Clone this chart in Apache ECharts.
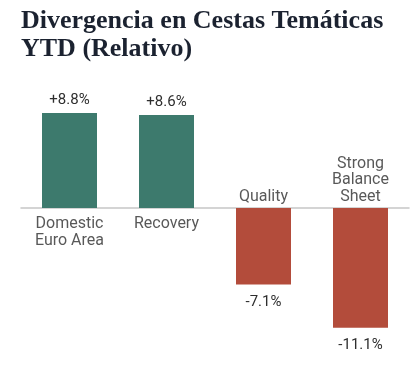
<!DOCTYPE html>
<html>
<head>
<meta charset="utf-8">
<script src="https://cdn.jsdelivr.net/npm/echarts@6/dist/echarts.min.js"></script>
<style>html,body{margin:0;padding:0;background:#fff}#c{width:420px;height:372px}</style>
</head>
<body>
<div id="c"></div>
<script>
const categories = ['Domestic\nEuro Area', 'Recovery', 'Quality', 'Strong\nBalance\nSheet'];
const values = [8.8, 8.6, -7.1, -11.1];
const valueLabels = ['+8.8%', '+8.6%', '-7.1%', '-11.1%'];

const POS = '#3d7a6d', NEG = '#b34c3b';
const yMin = -14, yMax = 10;
const chart = echarts.init(document.getElementById('c'), null, {renderer: 'canvas'});
const txt = {fontFamily: 'Roboto', color: '#2e2e2e'};
chart.setOption({
  animation: false,
  title: {
    text: 'Divergencia en Cestas Temáticas\nYTD (Relativo)',
    left: 16, top: 2,
    textStyle: {fontFamily: 'Liberation Serif', fontWeight: 'bold', fontSize: 26, lineHeight: 28, color: '#1b2230'}
  },
  grid: {left: 21, right: 11, top: 100, height: 259, outerBoundsMode: 'none', containLabel: false},
  xAxis: {
    type: 'category', data: categories,
    axisLine: {onZero: true, lineStyle: {color: '#c6c6c6', width: 1.5}},
    axisTick: {show: false},
    axisLabel: {show: false}
  },
  yAxis: {type: 'value', min: yMin, max: yMax, show: false},
  series: [{
    type: 'bar', barWidth: 55,
    data: values.map((v) => ({
      value: v,
      itemStyle: {color: v >= 0 ? POS : NEG},
      label: {position: v >= 0 ? 'top' : 'bottom', distance: v >= 0 ? 5 : 10}
    })),
    label: Object.assign({
      show: true, fontSize: 15,
      formatter: (p) => valueLabels[p.dataIndex]
    }, txt)
  }, {
    type: 'scatter', symbolSize: 0, silent: true,
    data: categories.map((c, i) => ({
      value: [i, 0],
      label: {position: values[i] >= 0 ? 'bottom' : 'top', distance: values[i] >= 0 ? 8 : 3}
    })),
    label: Object.assign({
      show: true, fontSize: 16, lineHeight: 16.5, align: 'center',
      formatter: (p) => categories[p.dataIndex]
    }, txt)
  }]
});
</script>
</body>
</html>
